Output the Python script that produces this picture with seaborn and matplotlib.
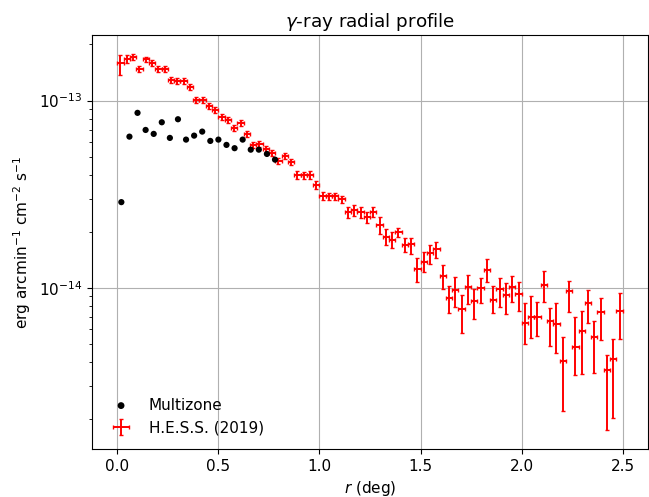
import numpy as np
import matplotlib
matplotlib.use("Agg")
import matplotlib.pyplot as plt
from matplotlib.ticker import NullFormatter, FixedLocator, LogFormatterSciNotation
import seaborn as sns
import pandas as pd

# ---- data (flux in units of 1e-14 erg arcmin^-1 cm^-2 s^-1) ----
hess_r = [0.0156, 0.0469, 0.0781, 0.1094, 0.1406, 0.1719, 0.2031, 0.2344, 0.2656, 0.2969,
          0.3281, 0.3594, 0.3906, 0.4219, 0.4531, 0.4844, 0.5156, 0.5469, 0.5781, 0.6094,
          0.6406, 0.6719, 0.7031, 0.7344, 0.7656, 0.7969, 0.8281, 0.8594, 0.8906, 0.9219,
          0.9531, 0.9844, 1.0156, 1.0469, 1.0781, 1.1094, 1.1406, 1.1719, 1.2031, 1.2344,
          1.2656, 1.2969, 1.3281, 1.3594, 1.3906, 1.4219, 1.4531, 1.4844, 1.5156, 1.5469,
          1.5781, 1.6094, 1.6406, 1.6719, 1.7031, 1.7344, 1.7656, 1.7969, 1.8281, 1.8594,
          1.8906, 1.9219, 1.9531, 1.9844, 2.0156, 2.0469, 2.0781, 2.1094, 2.1406, 2.1719,
          2.2031, 2.2344, 2.2656, 2.2969, 2.3281, 2.3594, 2.3906, 2.4219, 2.4531, 2.4844]
hess_half_bin = 0.015625
hess_flux = [15.91, 16.71, 17.07, 14.77, 16.57, 15.91, 14.72, 14.72, 12.90, 12.70,
             12.79, 11.88, 10.12, 10.09, 9.31, 8.89, 8.21, 7.91, 7.12, 7.57,
             6.64, 5.82, 5.87, 5.52, 5.25, 4.76, 5.08, 4.68, 4.01, 3.99,
             4.01, 3.55, 3.10, 3.08, 3.08, 2.98, 2.53, 2.60, 2.53, 2.38,
             2.55, 2.16, 1.88, 1.81, 2.00, 1.70, 1.71, 1.26, 1.38, 1.54,
             1.61, 1.16, 0.881, 0.980, 0.769, 1.012, 0.852, 0.996, 1.239, 0.863,
             0.987, 0.922, 1.017, 0.925, 0.647, 0.697, 0.700, 1.038, 0.664, 0.640,
             0.409, 0.960, 0.486, 0.587, 0.828, 0.545, 0.741, 0.364, 0.417, 0.753]
hess_err_lo = [2.14, 0.85, 0.70, 0.55, 0.60, 0.58, 0.54, 0.54, 0.48, 0.47,
               0.47, 0.44, 0.37, 0.37, 0.34, 0.33, 0.30, 0.29, 0.26, 0.28,
               0.25, 0.22, 0.22, 0.20, 0.19, 0.18, 0.19, 0.17, 0.18, 0.18,
               0.18, 0.16, 0.14, 0.14, 0.14, 0.13, 0.17, 0.17, 0.16, 0.15,
               0.17, 0.22, 0.19, 0.18, 0.12, 0.153, 0.19, 0.18, 0.17, 0.20,
               0.17, 0.17, 0.142, 0.194, 0.192, 0.194, 0.17, 0.17, 0.17, 0.124,
               0.20, 0.20, 0.175, 0.172, 0.147, 0.154, 0.146, 0.196, 0.174, 0.19,
               0.19, 0.22, 0.145, 0.239, 0.175, 0.192, 0.216, 0.19, 0.216, 0.217]
hess_err_hi = [1.64, 0.85, 0.70, 0.55, 0.60, 0.58, 0.54, 0.54, 0.48, 0.47,
               0.47, 0.44, 0.37, 0.37, 0.34, 0.33, 0.30, 0.29, 0.26, 0.28,
               0.25, 0.22, 0.22, 0.20, 0.19, 0.18, 0.19, 0.17, 0.18, 0.18,
               0.18, 0.16, 0.14, 0.14, 0.14, 0.13, 0.17, 0.17, 0.16, 0.15,
               0.17, 0.22, 0.19, 0.18, 0.10, 0.145, 0.135, 0.18, 0.17, 0.16,
               0.14, 0.17, 0.144, 0.165, 0.145, 0.162, 0.14, 0.14, 0.185, 0.16,
               0.136, 0.14, 0.142, 0.144, 0.188, 0.209, 0.142, 0.186, 0.115, 0.195,
               0.14, 0.125, 0.217, 0.166, 0.144, 0.121, 0.14, 0.073, 0.119, 0.192]

multizone_r = [0.02, 0.06, 0.10, 0.14, 0.18, 0.22, 0.26, 0.30, 0.34, 0.38,
               0.42, 0.46, 0.50, 0.54, 0.58, 0.62, 0.66, 0.70, 0.74, 0.78]
multizone_flux = [2.87, 6.42, 8.60, 6.97, 6.64, 7.66, 6.32, 7.95, 6.19, 6.50,
                  6.83, 6.09, 6.19, 5.80, 5.57, 6.19, 5.47, 5.47, 5.19, 4.84]

y_major_ticks = [1e-14, 1e-13]

unit = 1e-14

plt.rcParams["font.size"] = 11

fig = plt.figure(figsize=(6.49, 4.97), dpi=100)
ax = fig.add_axes([0.1418, 0.0966, 0.8567, 0.833])

mz = pd.DataFrame({"r": multizone_r, "flux": np.array(multizone_flux) * unit})
sns.scatterplot(data=mz, x="r", y="flux", ax=ax, color="black", s=20,
                edgecolor="none", label="Multizone", zorder=3)

ax.errorbar(hess_r, np.array(hess_flux) * unit,
            xerr=hess_half_bin,
            yerr=[np.array(hess_err_lo) * unit, np.array(hess_err_hi) * unit],
            fmt="none", ecolor="red", elinewidth=1.4, capsize=1.6, capthick=1.0,
            label="H.E.S.S. (2019)", zorder=2)

ax.set_yscale("log")
ylim = ax.get_ylim()
ax.yaxis.set_major_locator(FixedLocator(y_major_ticks))
ax.yaxis.set_major_formatter(LogFormatterSciNotation())
ax.yaxis.set_minor_formatter(NullFormatter())
ax.set_ylim(ylim)
ax.grid(True, which="major", color="#b0b0b0", linewidth=0.8)
ax.set_axisbelow(True)
ax.set_title(r"$\gamma$-ray radial profile", fontsize=13.2)
ax.set_xlabel(r"$r$ (deg)")
ax.set_ylabel(r"erg arcmin$^{-1}$ cm$^{-2}$ s$^{-1}$")
ax.legend(loc="lower left", frameon=False, markerscale=1.1)

fig.savefig("out.png", dpi=100)
